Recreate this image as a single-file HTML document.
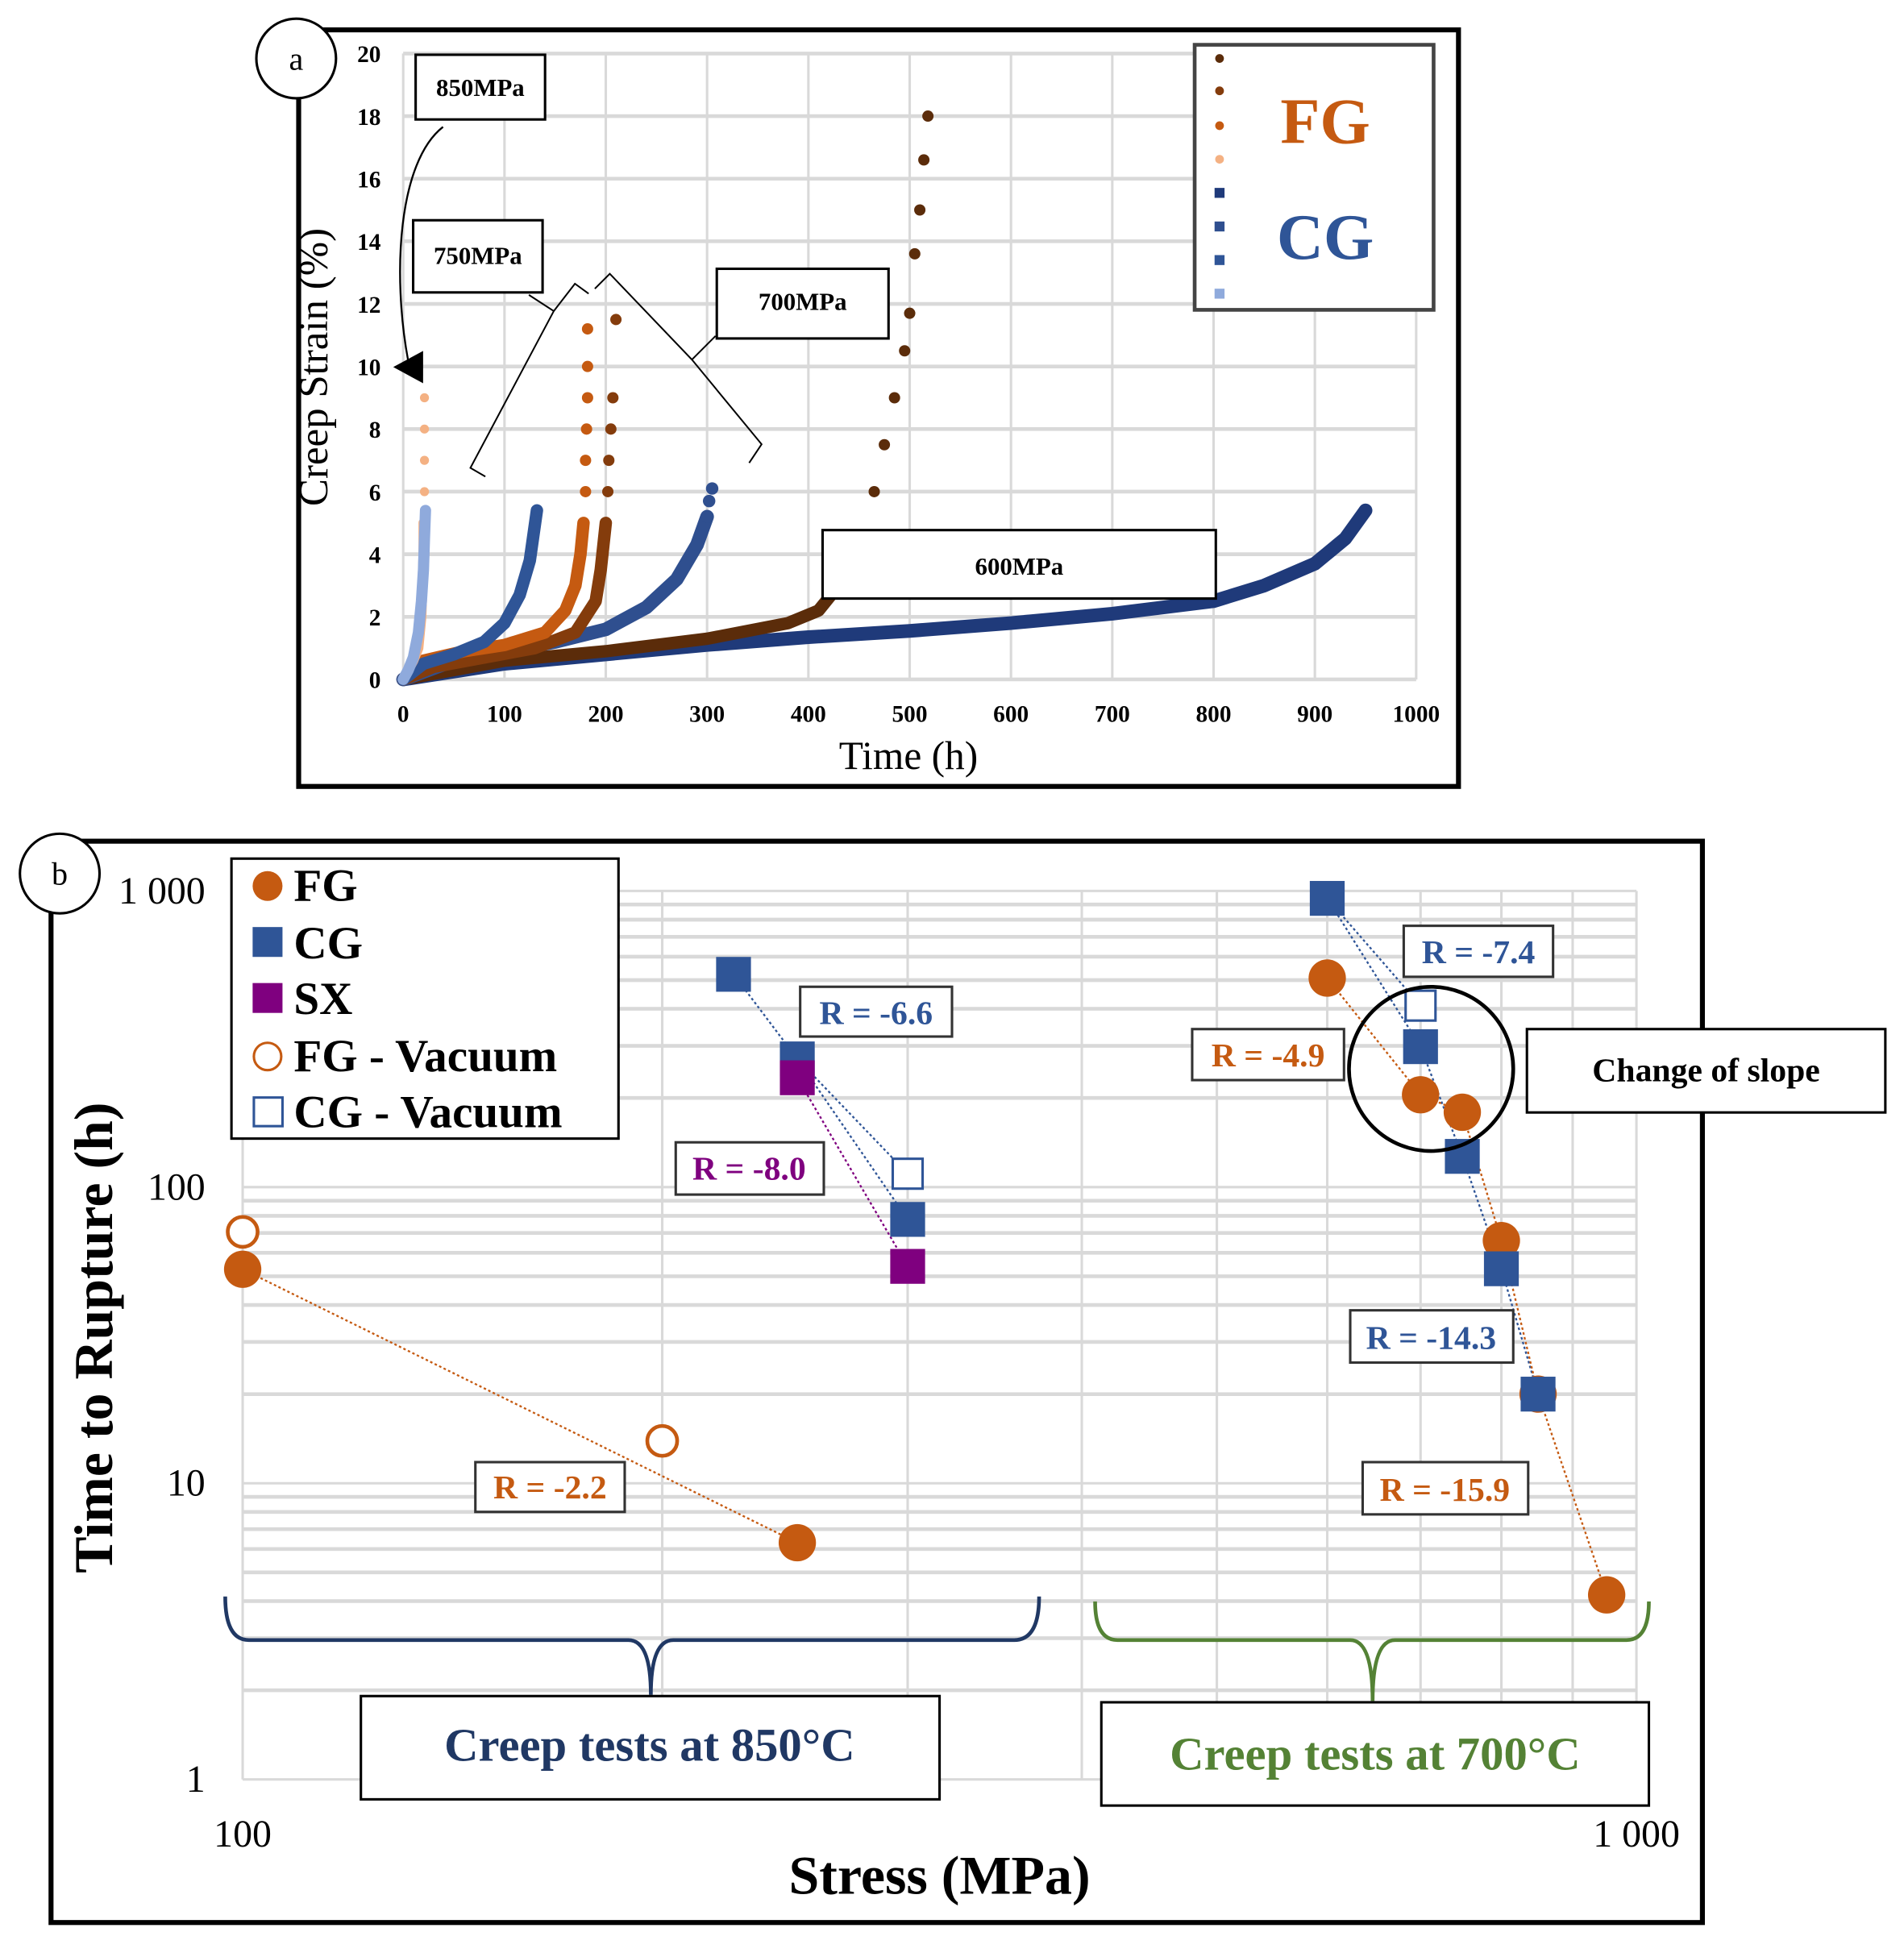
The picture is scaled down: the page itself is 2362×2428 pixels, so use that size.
<!DOCTYPE html>
<html><head><meta charset="utf-8"><style>
html,body{margin:0;padding:0;background:#fff}
svg{display:block}
text{font-family:"Liberation Serif",serif;font-weight:bold}
</style></head><body>
<svg id="s" width="2362" height="2428" viewBox="0 0 1530 1572.7" preserveAspectRatio="none" xmlns="http://www.w3.org/2000/svg">
<rect width="1530" height="1573" fill="#fff"/>
<g id="pa">
<rect x="240" y="24" width="932" height="608" fill="#fff" stroke="#000" stroke-width="4"/>
<g id="gridA"></g>
<g id="ticksA"></g>
<g id="curvesA"></g>
<text x="263" y="295" font-size="33" text-anchor="middle" style="font-weight:normal" transform="rotate(-90 263 295)">Creep Strain (%)</text>
<text x="730" y="618" font-size="32" text-anchor="middle" style="font-weight:normal">Time (h)</text>
<circle cx="238" cy="47" r="32" fill="#fff" stroke="#000" stroke-width="2"/>
<text x="238" y="56" font-size="26" text-anchor="middle" style="font-weight:normal">a</text>
<path d="M356,102 C320,130 315,220 328,290" fill="none" stroke="#000" stroke-width="1.5"/>
<polygon points="316,295 340,282 340,308" fill="#000"/>
<rect x="334" y="44" width="104" height="52" fill="#fff" stroke="#000" stroke-width="2"/>
<text x="386" y="77" font-size="20" text-anchor="middle">850MPa</text>
<rect x="332" y="177" width="104" height="58" fill="#fff" stroke="#000" stroke-width="2"/>
<text x="384" y="212" font-size="20" text-anchor="middle">750MPa</text>
<path d="M425,237 L445,250 M445,250 L462,228 L473,236 M390,383 L378,376 L445,250" fill="none" stroke="#000" stroke-width="1.3"/>
<path d="M575,270 L556,289 M478,232 L490,220 L556,289 L612,357 L602,372" fill="none" stroke="#000" stroke-width="1.3"/>
<rect x="576" y="216" width="138" height="56" fill="#fff" stroke="#000" stroke-width="2"/>
<text x="645" y="249" font-size="20" text-anchor="middle">700MPa</text>
<rect x="661" y="426" width="316" height="55" fill="#fff" stroke="#000" stroke-width="2"/>
<text x="819" y="462" font-size="20" text-anchor="middle">600MPa</text>
<g>
<rect x="960" y="36" width="192" height="213" fill="#fff" stroke="#444" stroke-width="3"/>
<g id="legDots"></g>
<text x="1065" y="115" font-size="52" fill="#c55a11" text-anchor="middle">FG</text>
<text x="1065" y="208" font-size="52" fill="#2f5597" text-anchor="middle">CG</text>
</g>
</g>

<g id="pb">
<rect x="41" y="676" width="1327" height="869" fill="#fff" stroke="#000" stroke-width="4"/>
<g id="gridB"></g>
<g id="ticksB"></g>
<g id="linesB"></g>
<g id="ptsB"></g>
<text x="755" y="1522" font-size="44" text-anchor="middle">Stress (MPa)</text>
<text x="90" y="1075" font-size="44" text-anchor="middle" transform="rotate(-90 90 1075)">Time to Rupture (h)</text>
<circle cx="48" cy="702" r="32" fill="#fff" stroke="#000" stroke-width="2"/>
<text x="48" y="711" font-size="26" text-anchor="middle" style="font-weight:normal">b</text>
<g>
<rect x="186" y="690" width="311" height="225" fill="#fff" stroke="#000" stroke-width="2"/>
<circle cx="215" cy="712" r="12" fill="#c55a11"/>
<text x="236" y="724" font-size="37">FG</text>
<rect x="203" y="745" width="24" height="24" fill="#2f5597"/>
<text x="236" y="770" font-size="37">CG</text>
<rect x="203" y="790" width="24" height="24" fill="#7f007f"/>
<text x="236" y="815" font-size="37">SX</text>
<circle cx="215" cy="849" r="11" fill="#fff" stroke="#c55a11" stroke-width="2"/>
<text x="236" y="861" font-size="37">FG - Vacuum</text>
<rect x="204" y="882" width="23" height="23" fill="#fff" stroke="#2f5597" stroke-width="2"/>
<text x="236" y="906" font-size="37">CG - Vacuum</text>
</g>
<g>
<rect x="643" y="793" width="122" height="40" fill="#fff" stroke="#333" stroke-width="2"/><text x="704" y="823" font-size="27" fill="#2f5597" text-anchor="middle">R = -6.6</text>
<rect x="543" y="918" width="119" height="42" fill="#fff" stroke="#333" stroke-width="2"/><text x="602" y="948" font-size="27" fill="#7f007f" text-anchor="middle">R = -8.0</text>
<rect x="382" y="1175" width="120" height="40" fill="#fff" stroke="#333" stroke-width="2"/><text x="442" y="1204" font-size="27" fill="#c55a11" text-anchor="middle">R = -2.2</text>
<rect x="1128" y="744" width="120" height="41" fill="#fff" stroke="#333" stroke-width="2"/><text x="1188" y="774" font-size="27" fill="#2f5597" text-anchor="middle">R = -7.4</text>
<rect x="958" y="827" width="122" height="41" fill="#fff" stroke="#333" stroke-width="2"/><text x="1019" y="857" font-size="27" fill="#c55a11" text-anchor="middle">R = -4.9</text>
<rect x="1085" y="1053" width="131" height="42" fill="#fff" stroke="#333" stroke-width="2"/><text x="1150" y="1084" font-size="27" fill="#2f5597" text-anchor="middle">R = -14.3</text>
<rect x="1095" y="1175" width="133" height="42" fill="#fff" stroke="#333" stroke-width="2"/><text x="1161" y="1206" font-size="27" fill="#c55a11" text-anchor="middle">R = -15.9</text>
</g>
<circle cx="1150" cy="859" r="66" fill="none" stroke="#000" stroke-width="3"/>
<rect x="1227" y="827" width="288" height="67" fill="#fff" stroke="#000" stroke-width="2"/>
<text x="1371" y="869" font-size="27" text-anchor="middle">Change of slope</text>
<path d="M181,1283 Q181,1318 200,1318 L505,1318 Q523,1318 523,1362 Q523,1318 541,1318 L815,1318 Q835,1318 835,1283" fill="none" stroke="#203864" stroke-width="3"/>
<path d="M880,1287 Q880,1318 898,1318 L1085,1318 Q1103,1318 1103,1367 Q1103,1318 1121,1318 L1307,1318 Q1325,1318 1325,1287" fill="none" stroke="#548235" stroke-width="3"/>
<rect x="290" y="1363" width="465" height="83" fill="#fff" stroke="#000" stroke-width="2"/>
<text x="522" y="1415" font-size="38" fill="#203864" text-anchor="middle">Creep tests at 850°C</text>
<rect x="885" y="1368" width="440" height="83" fill="#fff" stroke="#000" stroke-width="2"/>
<text x="1105" y="1422" font-size="38" fill="#548235" text-anchor="middle">Creep tests at 700°C</text>
</g>
</svg>
<script>
const timeTicks=[0,100,200,300,400,500,600,700,800,900,1000];
const strainTicks=[0,2,4,6,8,10,12,14,16,18,20];
const t850FG=[0,5,10,15,18,19,20,20,21,21,21,21];
const e850FG=[0,0.3,0.6,1,2,3,4,5,6,7,8,9];
const t850CG=[0,5,10,15,18,20,21,22];
const e850CG=[0,0.3,0.7,1.5,2.5,3.5,4.5,5.4];
const t750CG=[0,20,50,80,100,115,125,132];
const e750CG=[0,0.5,0.8,1.2,1.8,2.7,3.8,5.4];
const t750FG=[0,20,60,100,140,160,170,175,178,180,180,181,182,182,182];
const e750FG=[0,0.6,0.9,1.1,1.5,2.2,3,4,5,6,7,8,9,10,11.2];
const t700FG=[0,30,80,130,170,190,195,200,202,203,205,207,210];
const e700FG=[0,0.4,0.7,1,1.5,2.5,3.5,5,6,7,8,9,11.5];
const t700CG=[0,50,100,150,200,240,270,290,300,302,305];
const e700CG=[0,0.6,0.9,1.2,1.6,2.3,3.2,4.3,5.2,5.7,6.1];
const t600FG=[0,100,200,300,380,410,430,450,465,475,485,495,500,505,510,514,518];
const e600FG=[0,0.6,0.9,1.3,1.8,2.2,3,4.5,6,7.5,9,10.5,11.7,13.6,15,16.6,18];
const t600CG=[0,100,200,300,400,500,600,700,800,850,900,930,950];
const e600CG=[0,0.5,0.8,1.1,1.35,1.55,1.8,2.1,2.5,3,3.7,4.5,5.4];
const stressTicks=[100,200,300,400,500,600,700,800,900,1000];
const rupTicks=[1,2,3,4,5,6,7,8,9,10,20,30,40,50,60,70,80,90,100,200,300,400,500,600,700,800,900,1000];
const fg850S=[100,250], fg850T=[52.8,6.3];
const fgVacS=[100,200], fgVacT=[70.6,13.9];
const cg850S=[225,250,300], cg850T=[523,271,77.8];
const cgVacS=[300,700], cgVacT=[111,410];
const sx850S=[250,300], sx850T=[234,54];
const cg700S=[600,700,750,800,850], cg700T=[944,298,127,53,20];
const fg700S=[600,700,750,800,850,952], fg700T=[508,205,179,66,20,4.2];

const NS="http://www.w3.org/2000/svg";
function mk(parent,tag,attrs){const e=document.createElementNS(NS,tag);for(const k in attrs)e.setAttribute(k,attrs[k]);parent.appendChild(e);return e;}
const xA=t=>324+t*(1138-324)/1000, yA=e=>546-e*(546-43)/20;
const xB=s=>195+1120*Math.log10(s/100), yB=t=>1430-238*Math.log10(t);

const gA=document.getElementById('gridA'), tkA=document.getElementById('ticksA');
timeTicks.forEach(t=>{const l=mk(gA,'line',{x1:xA(t),x2:xA(t),y1:yA(20),y2:yA(0),stroke:'#d9d9d9','stroke-width':2});


const tx=mk(tkA,'text',{x:xA(t),y:580,'font-size':19,'text-anchor':'middle'});tx.textContent=t;

});
strainTicks.forEach(v=>{const l=mk(gA,'line',{x1:xA(0),x2:xA(1000),y1:yA(v),y2:yA(v),stroke:'#d9d9d9','stroke-width':3});


const tx=mk(tkA,'text',{x:306,y:yA(v)+7,'font-size':19,'text-anchor':'end'});tx.textContent=v;

});

const cA=document.getElementById('curvesA');
const curves=[
 ['curve-600-cg',t600CG,e600CG,'#1f3a7a',11],
 ['curve-600-fg',t600FG,e600FG,'#5b2c0a',10],
 ['curve-700-cg',t700CG,e700CG,'#2f4f8f',11],
 ['curve-700-fg',t700FG,e700FG,'#843c0c',10],
 ['curve-750-fg',t750FG,e750FG,'#c55a11',10],
 ['curve-750-cg',t750CG,e750CG,'#2f5597',10],
 ['curve-850-fg',t850FG,e850FG,'#f4b183',8],
 ['curve-850-cg',t850CG,e850CG,'#8faadc',9]];
curves.forEach(c=>{const [nm,ts,es,col,w]=c;
 let d='';let first=true;
 for(let i=0;i<ts.length;i++){ if(es[i]>5.5&&i>0) break; d+=(first?'M':'L')+xA(ts[i])+','+yA(es[i]);first=false;}
 const p=mk(cA,'path',{d:d,fill:'none',stroke:col,'stroke-width':w,'stroke-linecap':'round','stroke-linejoin':'round'});
 
 
 for(let i=1;i<ts.length;i++){ if(es[i]<=4) continue;
  const ddot=mk(cA,'circle',{cx:xA(ts[i]),cy:yA(es[i]),r:w/2.2,fill:col});
  
  }
});
const ld=document.getElementById('legDots');
const legCols=['#5b2c0a','#843c0c','#c55a11','#f4b183','#1f3a7a','#2f4f8f','#2f5597','#8faadc'];
const legYs=[47,73,101,128,155,182,209,236];
legCols.forEach((c,i)=>{const r=mk(ld,i<4?'circle':'rect',i<4?{cx:980,cy:legYs[i],r:3.5,fill:c}:{x:976,y:legYs[i]-4,width:8,height:8,fill:c});
 
 });

const gB=document.getElementById('gridB'), tkB=document.getElementById('ticksB');
stressTicks.forEach(s=>{const l=mk(gB,'line',{x1:xB(s),x2:xB(s),y1:yB(1000),y2:yB(1),stroke:'#d9d9d9','stroke-width':2});
 
 });
rupTicks.forEach(t=>{const major=[1,10,100,1000].includes(t);const l=mk(gB,'line',{x1:xB(100),x2:xB(1000),y1:yB(t),y2:yB(t),stroke:'#d9d9d9','stroke-width':major?2:3});
 
 });
[[1000,'1 000'],[100,'100'],[10,'10'],[1,'1']].forEach(a=>{const tx=mk(tkB,'text',{x:165,y:yB(a[0])+10,'font-size':31,'text-anchor':'end',style:'font-weight:normal'});tx.textContent=a[1];
 
 });
[[100,'100'],[1000,'1 000']].forEach(a=>{const tx=mk(tkB,'text',{x:xB(a[0]),y:1484,'font-size':31,'text-anchor':'middle',style:'font-weight:normal'});tx.textContent=a[1];
 
 });

const lB=document.getElementById('linesB');
function line(S,T,col,nm){let d='';for(let i=0;i<S.length;i++)d+=(i?'L':'M')+xB(S[i])+','+yB(T[i]);
 const p=mk(lB,'path',{d:d,fill:'none',stroke:col,'stroke-width':1.5,'stroke-dasharray':'2 2'});
 
 }
line(fg850S,fg850T,'#c55a11','fit-fg-850');
line(cg850S,cg850T,'#2f5597','fit-cg-850');
line([cg850S[1],cgVacS[0]],[cg850T[1],cgVacT[0]],'#2f5597','fit-cg-vac-850');
line(sx850S,sx850T,'#7f007f','fit-sx-850');
line(cg700S,cg700T,'#2f5597','fit-cg-700');
line([cg700S[0],cgVacS[1]],[cg700T[0],cgVacT[1]],'#2f5597','fit-cg-vac-700');
line(fg700S,fg700T,'#c55a11','fit-fg-700');

const pB=document.getElementById('ptsB');
function circ(S,T,fill,stroke,nm){S.forEach((s,i)=>{const c=mk(pB,'circle',{cx:xB(s),cy:yB(T[i]),r:stroke?12:15,fill:fill,stroke:stroke||'none','stroke-width':3});
 
 });}
function sq(S,T,fill,stroke,nm){S.forEach((s,i)=>{const a=stroke?24:28;const r=mk(pB,'rect',{x:xB(s)-a/2,y:yB(T[i])-a/2,width:a,height:a,fill:fill,stroke:stroke||'none','stroke-width':2});
 
 });}
circ(fgVacS,fgVacT,'#fff','#c55a11','point-fg-vacuum');
sq(cgVacS,cgVacT,'#fff','#2f5597','point-cg-vacuum');
sq(cg850S,cg850T,'#2f5597',null,'point-cg-850');
sq(sx850S,sx850T,'#7f007f',null,'point-sx-850');
circ(fg850S,fg850T,'#c55a11',null,'point-fg-850');
circ(fg700S,fg700T,'#c55a11',null,'point-fg-700');
sq(cg700S,cg700T,'#2f5597',null,'point-cg-700');
</script>
</body></html>
